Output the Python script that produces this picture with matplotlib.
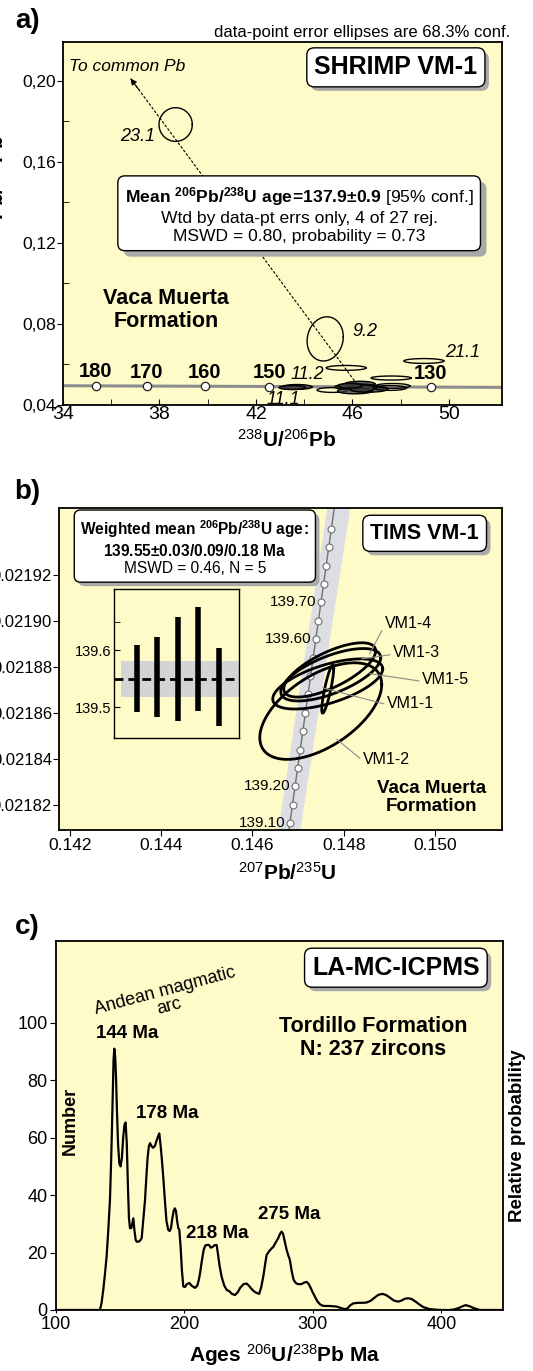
import numpy as np
import matplotlib.pyplot as plt
from matplotlib.transforms import offset_copy

plt.rcParams['font.family'] = ['Liberation Sans', 'DejaVu Sans']
plt.rcParams['mathtext.fontset'] = 'custom'
plt.rcParams['mathtext.rm'] = 'Liberation Sans'
plt.rcParams['mathtext.bf'] = 'Liberation Sans:bold'
plt.rcParams['mathtext.it'] = 'Liberation Sans:italic'
plt.rcParams['axes.linewidth'] = 1.3

# ---- panel a: SHRIMP Tera-Wasserburg data ----
conc_a_age = [180, 170, 160, 150, 130]
conc_a_x = [35.36, 37.47, 39.87, 42.55, 49.25]
conc_a_y = [0.04944, 0.04935, 0.04924, 0.04912, 0.04883]
conc_a_line_x = [34, 52.2]
conc_a_line_y = [0.0495, 0.0487]

# ellipse centres, half widths, half heights, correlation, filled or open
a_x = [38.67, 44.87, 45.74, 48.96, 47.60, 43.70, 43.50, 45.17, 46.31, 46.64, 47.66, 46.16, 46.10, 47.55, 46.40, 45.90]
a_y = [0.1783, 0.0726, 0.0583, 0.0617, 0.0533, 0.0489, 0.0486, 0.0474, 0.0504, 0.0479, 0.0494, 0.0489, 0.0469, 0.0484, 0.0482, 0.0495]
a_hx = [0.69, 0.75, 0.83, 0.83, 0.83, 0.62, 0.55, 0.64, 0.62, 0.83, 0.72, 0.89, 0.72, 0.69, 0.50, 0.50]
a_hy = [0.0083, 0.0109, 0.0012, 0.0012, 0.0010, 0.0012, 0.0010, 0.0012, 0.0013, 0.0016, 0.0012, 0.0015, 0.0014, 0.0012, 0.0018, 0.0012]
a_rho = [0, 0.1, 0, 0, 0, 0, 0, 0, 0, 0, 0, 0, 0, 0, 0, 0]
a_fill = [False, False, False, False, False, True, True, False, True, True, False, True, True, False, True, True]
spot_labels = ['23.1', '9.2', '21.1', '11.2', '11.1']
spot_label_x = [37.1, 46.52, 50.57, 44.12, 43.13]
spot_label_y = [0.1724, 0.0761, 0.0657, 0.0548, 0.0425]
common_pb_x = [46.3, 36.8]
common_pb_y = [0.0485, 0.201]

# ---- panel b: TIMS concordia data ----
conc_b_age = [139.10, 139.15, 139.20, 139.25, 139.30, 139.35, 139.40, 139.45, 139.50,
              139.55, 139.60, 139.65, 139.70, 139.75, 139.80, 139.85, 139.90]
conc_b_x = [0.14682, 0.14688, 0.14693, 0.14699, 0.14705, 0.14710, 0.14716, 0.14722, 0.14727,
            0.14733, 0.14739, 0.14744, 0.14750, 0.14756, 0.14761, 0.14767, 0.14773]
conc_b_y = [0.021812, 0.021820, 0.021828, 0.021836, 0.021844, 0.021852, 0.021860, 0.021868, 0.021876,
            0.021884, 0.021892, 0.021900, 0.021908, 0.021916, 0.021924, 0.021932, 0.021940]
conc_b_labelled = [139.10, 139.20, 139.60, 139.70]
conc_b_line_x = [0.146799, 0.147794]
conc_b_line_y = [0.021809, 0.021949]
band_b_y = [0.021809, 0.021949]
band_b_left = [0.146555, 0.147628]
band_b_right = [0.147037, 0.148132]

b_names = ['VM1-1', 'VM1-2', 'VM1-3', 'VM1-4', 'VM1-5']
b_x = [0.147650, 0.147497, 0.147716, 0.147694, 0.147650]
b_y = [0.0218703, 0.0218607, 0.0218765, 0.0218786, 0.0218725]
b_hx = [0.000131, 0.001336, 0.001095, 0.001007, 0.001205]
b_hy = [0.0000105, 0.0000210, 0.0000114, 0.0000118, 0.0000109]
b_rho = [0.85, 0.55, 0.65, 0.7, 0.6]
b_label_x = [0.148942, 0.148417, 0.149074, 0.148899, 0.149709]
b_label_y = [0.0218642, 0.0218398, 0.0218860, 0.0218987, 0.0218743]
b_tip_x = [0.147541, 0.147847, 0.148395, 0.148570, 0.148570]
b_tip_y = [0.0218708, 0.0218485, 0.0218834, 0.0218856, 0.0218770]

inset_x = [1, 2, 3, 4, 5]
inset_lo = [139.491, 139.482, 139.475, 139.493, 139.467]
inset_hi = [139.609, 139.623, 139.658, 139.675, 139.604]
inset_mean = 139.549
inset_err = 0.032

# ---- panel c: detrital zircon probability curve ----
c_age = [100, 134.2, 135.5, 136.8, 138, 139.4, 140.6, 142, 142.8, 143.5,
         144.2, 144.8, 145.4, 146.1, 146.8, 147.4, 148.3, 149.3, 150.3, 151.3,
         152.3, 153.3, 154.2, 155.1, 156, 156.8, 157.6, 158.6, 159.5, 160.2,
         161, 162, 162.8, 164.5, 166, 166.7, 167.5, 168.3, 169.3, 170.3,
         171.3, 172.3, 173.2, 174.5, 175.5, 177, 178.3, 179.5, 180.4, 181.5,
         182.5, 183.5, 184.8, 186, 187.4, 188.5, 189.5, 190.6, 191.6, 192.5,
         193.4, 194.3, 195.2, 196, 197, 198, 199.1, 200.5, 201.8, 203.8,
         205.5, 208.2, 210, 211.2, 212.1, 213.5, 215, 216.3, 217.3, 219,
         220.5, 222, 223.5, 225.1, 226.2, 227.5, 229, 231, 232.9, 235,
         237, 239.3, 241.5, 243.5, 246, 248.4, 250.5, 252.5, 255, 258.2,
         259.8, 261.5, 263, 264, 266, 268, 269.2, 271, 273, 274.5,
         275.6, 276.8, 278, 279.5, 281, 282.1, 283.5, 285, 286.5, 287.3,
         289, 291, 293, 295.1, 296.8, 298.5, 300, 301.6, 303.5, 305.5,
         307.5, 309.3, 313, 316, 318.4, 321, 324.9, 327, 329, 331.4,
         335, 338, 341.8, 345, 348, 351, 354.3, 357, 360, 363,
         366.4, 369, 371.5, 374.2, 377, 380, 383, 386, 391, 396,
         400, 406.6, 410, 413, 416, 419, 422, 425, 429.9, 448]
c_count = [0, 0, 2.5, 7, 12, 18.6, 27, 38.3, 50, 62,
           76, 87, 91, 88, 80, 70, 58, 51, 50, 53,
           60, 64.5, 65.3, 58, 43, 32, 28.5, 28.5, 30.5, 31.9,
           28, 24.5, 23.8, 23.8, 24.5, 25, 29, 33, 38.3, 46,
           53, 57, 58.1, 57, 56.5, 57.1, 59, 60.5, 61.5, 57,
           52, 46.3, 38, 31, 27.9, 27.5, 28.5, 32, 34.5, 35.4,
           34.5, 31, 28.5, 28, 22, 14, 8.2, 8, 9, 9.4,
           8.5, 7.7, 8.5, 10.5, 12.7, 17, 21, 22.5, 22.6, 22.7,
           21.7, 22, 22.6, 22.6, 19, 15, 11.5, 8.5, 7, 6.5,
           5.6, 5.2, 6.2, 7.8, 9, 9.2, 8.3, 7.2, 6.2, 5.6,
           8, 12, 16.5, 19.2, 20.5, 21.5, 22, 23.5, 25, 26.6,
           27.3, 26.5, 24, 21, 18.8, 17.4, 13.5, 10.5, 9.5, 9.2,
           9, 9, 9.5, 9.8, 9, 7.5, 6, 4.6, 3, 2,
           1.5, 1.4, 1.4, 1.3, 1.2, 0.8, 0.3, 0.6, 1.6, 2.3,
           2.5, 2.5, 2.6, 3.2, 4.3, 5.3, 5.6, 5.2, 4.3, 3.3,
           2.9, 3.3, 3.9, 4.1, 3.8, 2.9, 1.9, 1, 0.3, 0.1,
           0, 0, 0.2, 0.6, 1.2, 1.7, 1.3, 0.7, 0, 0]
c_peak_labels = ['144 Ma', '178 Ma', '218 Ma', '275 Ma']
c_peak_x = [155.3, 186.4, 225.3, 281.3]
c_peak_y = [96.2, 68.3, 26.8, 33.1]

BG = '#fffbc8'
W, H = 533, 1371


def rect(x0, y0, x1, y1):
    return [x0 / W, 1 - y1 / H, (x1 - x0) / W, (y1 - y0) / H]


def fxy(x, y):
    return x / W, 1 - y / H


def ellipse(ax, cx, cy, hx, hy, rho, fill=False, lw=1.0, z=5):
    t = np.linspace(0, 2 * np.pi, 240)
    ex = cx + hx * np.cos(t)
    ey = cy + hy * (rho * np.cos(t) + np.sqrt(1 - rho ** 2) * np.sin(t))
    if fill:
        ax.fill(ex, ey, color='#3c3c3c', alpha=0.75, lw=0, zorder=z)
    ax.plot(ex, ey, color='black', lw=lw, zorder=z)


def shadow_box(ax, x, y, s, size, weight='normal', off=4, pad=0.3, ls=1.2):
    tr = offset_copy(ax.transData, fig=fig, x=off, y=-off, units='dots')
    ax.text(x, y, s, transform=tr, fontsize=size, fontweight=weight, color='none',
            ha='center', va='center', linespacing=ls, zorder=9,
            bbox=dict(boxstyle=f'round,pad={pad}', fc='#a9a9a9', ec='none'))
    ax.text(x, y, s, fontsize=size, fontweight=weight, ha='center', va='center',
            linespacing=ls, zorder=10,
            bbox=dict(boxstyle=f'round,pad={pad}', fc='white', ec='black', lw=1))


fig = plt.figure(figsize=(5.33, 13.71), dpi=100)

# ================= panel a =================
ax_a = fig.add_axes(rect(63, 42, 502, 405), facecolor=BG)
ax_a.set_xlim(34, 52.2)
ax_a.set_ylim(0.04, 0.219)
ax_a.set_xticks([34, 38, 42, 46, 50])
ax_a.set_xticks([36, 40, 44, 48], minor=True)
ax_a.set_yticks([0.04, 0.08, 0.12, 0.16, 0.20])
ax_a.set_yticklabels(['0,04', '0,08', '0,12', '0,16', '0,20'])
ax_a.set_yticks([0.06, 0.10, 0.14, 0.18], minor=True)
ax_a.tick_params(axis='x', which='both', direction='in', length=4, labelsize=14, pad=1)
ax_a.tick_params(axis='y', which='major', direction='out', length=4, labelsize=12.5, pad=1)
ax_a.tick_params(axis='y', which='minor', direction='in', length=4)

ax_a.plot(conc_a_line_x, conc_a_line_y, color='#8c8c8c', lw=2.2, zorder=2)
ax_a.plot(common_pb_x, common_pb_y, color='black', lw=0.8, ls=(0, (2.5, 1.5)), zorder=3)
ax_a.annotate('', xy=(common_pb_x[1], common_pb_y[1]),
              xytext=(common_pb_x[1] + 0.35, common_pb_y[1] - 0.0056),
              arrowprops=dict(arrowstyle='-|>', color='black', lw=0.8, mutation_scale=9,
                              shrinkA=0, shrinkB=0))
for cx, cy, hx, hy, r, f in zip(a_x, a_y, a_hx, a_hy, a_rho, a_fill):
    ellipse(ax_a, cx, cy, hx, hy, r, fill=f, lw=1.0)
ax_a.plot(conc_a_x, conc_a_y, 'o', ms=6, mfc='white', mec='#222', mew=0.9, zorder=6)
for age, x, y in zip(conc_a_age, conc_a_x, conc_a_y):
    ax_a.annotate(str(age), (x, y), xytext=(0, 10), textcoords='offset points',
                  ha='center', va='center', fontsize=14.5, fontweight='bold', zorder=7)
for s, x, y in zip(spot_labels, spot_label_x, spot_label_y):
    ax_a.text(x, y, s, fontsize=13, style='italic', ha='center', va='center', zorder=7)

ax_a.text(34.25, 0.207, 'To common Pb', fontsize=12.5, style='italic', ha='left', va='center')
ax_a.text(38.26, 0.0869, 'Vaca Muerta\nFormation', fontsize=15.5, fontweight='bold',
          ha='center', va='center', linespacing=1.1)
shadow_box(ax_a, 47.8, 0.2065, 'SHRIMP VM-1', 18, weight='bold', off=4, pad=0.3)
mean_txt = (r'$\mathbf{Mean}$ $^{\mathbf{206}}\mathbf{Pb/}^{\mathbf{238}}'
            r'\mathbf{U\ age\!=\!137.9±0.9}$ [95% conf.]' '\n'
            'Wtd by data-pt errs only, 4 of 27 rej.\n'
            'MSWD = 0.80, probability = 0.73')
shadow_box(ax_a, 43.79, 0.1339, mean_txt, 12.6, off=6, pad=0.4, ls=1.22)

fig.text(*fxy(510, 32), 'data-point error ellipses are 68.3% conf.', fontsize=12,
         ha='right', va='center')
fig.text(*fxy(287, 440), r'$^{238}\mathbf{U/}^{206}\mathbf{Pb}$', fontsize=15,
         ha='center', va='center')
fig.text(*fxy(-3, 190), r'$^{207}\mathbf{Pb/}^{206}\mathbf{Pb}$', fontsize=15,
         rotation=90, ha='center', va='center')
fig.text(*fxy(28, 21), 'a)', fontsize=20, fontweight='bold', ha='center', va='center')

# ================= panel b =================
ax_b = fig.add_axes(rect(59, 508, 502, 830), facecolor=BG)
ax_b.set_xlim(0.14176, 0.15147)
ax_b.set_ylim(0.021809, 0.021949)
b_xticks = [0.142, 0.144, 0.146, 0.148, 0.150]
b_yticks = [0.02182, 0.02184, 0.02186, 0.02188, 0.02190, 0.02192]
ax_b.set_xticks(b_xticks)
ax_b.set_xticklabels([f'{v:.3f}' for v in b_xticks])
ax_b.set_yticks(b_yticks)
ax_b.set_yticklabels([f'{v:.5f}' for v in b_yticks])
ax_b.tick_params(axis='x', direction='out', length=4, labelsize=12.5, pad=2)
ax_b.tick_params(axis='y', direction='out', length=4, labelsize=12, pad=1)

ax_b.fill_betweenx(band_b_y, band_b_left, band_b_right, color='#dcdee4', lw=0, zorder=1)
ax_b.plot(conc_b_line_x, conc_b_line_y, color='#707070', lw=1.0, zorder=2)
ax_b.plot(conc_b_x, conc_b_y, 'o', ms=5, mfc='white', mec='#707070', mew=0.8, zorder=3)
for age, x, y in zip(conc_b_age, conc_b_x, conc_b_y):
    if round(age, 2) in conc_b_labelled:
        ax_b.annotate(f'{age:.2f}', (x, y), xytext=(-3, 0), textcoords='offset points',
                      ha='right', va='center', fontsize=11, zorder=4)
for cx, cy, hx, hy, r in zip(b_x, b_y, b_hx, b_hy, b_rho):
    ellipse(ax_b, cx, cy, hx, hy, r, lw=2.0)
for name, lx, ly, tx, ty in zip(b_names, b_label_x, b_label_y, b_tip_x, b_tip_y):
    ax_b.annotate(name, (tx, ty), xytext=(lx, ly), ha='left', va='center', fontsize=11.5,
                  arrowprops=dict(arrowstyle='-', color='#8a8a8a', lw=0.8, shrinkA=0,
                                  shrinkB=0, relpos=(0, 0.4)), zorder=6)

ax_b.text(0.149928, 0.021823, 'Vaca Muerta\nFormation', fontsize=13.5, fontweight='bold',
          ha='center', va='center', linespacing=1.1)
shadow_box(ax_b, 0.149775, 0.021938, 'TIMS VM-1', 15.5, weight='bold', off=4, pad=0.35)
wm_txt = (r'$\mathbf{Weighted\ mean}$ $^{\mathbf{206}}\mathbf{Pb/}^{\mathbf{238}}\mathbf{U\ age\!:}$' '\n'
          r'$\mathbf{139.55±0.03/0.09/0.18\ Ma}$' '\n'
          'MSWD = 0.46, N = 5')
shadow_box(ax_b, 0.144738, 0.021932, wm_txt, 11.2, off=4, pad=0.4, ls=1.2)

ax_in = fig.add_axes(rect(114, 589, 239, 738), facecolor=BG)
ax_in.set_xlim(-0.1, 6.0)
ax_in.set_ylim(139.446, 139.707)
ax_in.axhspan(inset_mean - inset_err, inset_mean + inset_err, xmin=0.055, xmax=1,
              color='#d4d4d4', lw=0, zorder=1)
ax_in.axhline(inset_mean, color='black', lw=2, ls=(0, (3.2, 1.8)), zorder=3)
ax_in.vlines(inset_x, inset_lo, inset_hi, color='black', lw=4, zorder=2)
ax_in.set_xticks([])
ax_in.set_yticks([139.5, 139.6])
ax_in.set_yticks([139.55, 139.65], minor=True)
ax_in.tick_params(axis='y', which='both', direction='in', length=4, labelsize=10.5, pad=2)
for sp in ax_in.spines.values():
    sp.set_linewidth(1.0)

fig.text(*fxy(287, 873), r'$^{207}\mathbf{Pb/}^{235}\mathbf{U}$', fontsize=15,
         ha='center', va='center')
fig.text(*fxy(27, 492), 'b)', fontsize=20, fontweight='bold', ha='center', va='center')

# ================= panel c =================
ax_c = fig.add_axes(rect(56, 941, 503, 1310), facecolor=BG)
ax_c.plot(c_age, c_count, color='black', lw=1.6, zorder=3)
ax_c.set_xlim(100, 448)
ax_c.set_ylim(0, 128.5)
ax_c.set_xticks([100, 200, 300, 400])
ax_c.set_yticks([0, 20, 40, 60, 80, 100])
ax_c.tick_params(axis='y', direction='out', length=4, labelsize=13, pad=2)
ax_c.tick_params(axis='x', direction='out', length=2, labelsize=13, pad=2)

for s, x, y in zip(c_peak_labels, c_peak_x, c_peak_y):
    ax_c.text(x, y, s, fontsize=13.5, fontweight='bold', ha='center', va='center')
ax_c.text(186.4, 108.4, 'Andean magmatic\narc', fontsize=13, rotation=15,
          rotation_mode='anchor', ha='center', va='center', linespacing=0.9)
ax_c.text(346.7, 94.8, 'Tordillo Formation\nN: 237 zircons', fontsize=15.5,
          fontweight='bold', ha='center', va='center', linespacing=1.15)
shadow_box(ax_c, 364.6, 119.2, 'LA-MC-ICPMS', 18, weight='bold', off=4, pad=0.3)
ax_c.text(110.8, 66, 'Number', fontsize=13, fontweight='bold', rotation=90,
          ha='center', va='center')

fig.text(*fxy(518, 1136), 'Relative probability', fontsize=13.5, fontweight='bold',
         rotation=90, ha='center', va='center')
fig.text(*fxy(285, 1355), r'$\mathbf{Ages}$ $^{206}\mathbf{U/}^{238}\mathbf{Pb}$ $\mathbf{Ma}$',
         fontsize=15, ha='center', va='center')
fig.text(*fxy(27, 927), 'c)', fontsize=20, fontweight='bold', ha='center', va='center')

fig.savefig('out.png', dpi=100)
